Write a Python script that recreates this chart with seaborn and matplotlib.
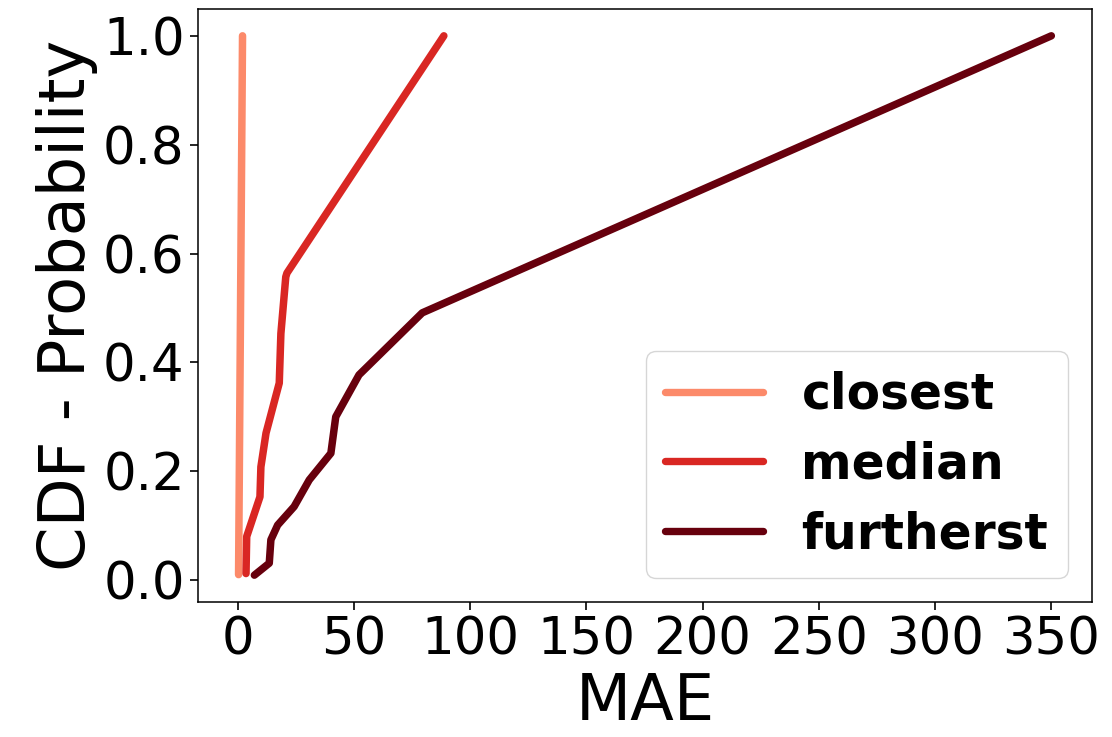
import seaborn as sns
import matplotlib.pyplot as plt
import pandas as pd

# values (MAE, CDF probability)
closest_mae = [0.4, 2.1]
closest_cdf = [0.01, 1.0]

median_mae = [3.6, 3.9, 9.6, 10.0, 12.2, 17.9, 18.6, 20.7, 21.2, 88.7]
median_cdf = [0.012, 0.08, 0.153, 0.208, 0.27, 0.362, 0.453, 0.557, 0.564, 1.0]

furtherst_mae = [7.2, 13.6, 14.3, 17.2, 24.3, 30.8, 40.1, 42.2, 52.2, 79.4, 350.0]
furtherst_cdf = [0.009, 0.031, 0.074, 0.101, 0.135, 0.184, 0.233, 0.300, 0.377, 0.491, 1.0]

series = ["closest", "median", "furtherst"]
colors = ["#fc8a6a", "#d92723", "#67000d"]

frames = []
for name, xs, ys in [("closest", closest_mae, closest_cdf),
                     ("median", median_mae, median_cdf),
                     ("furtherst", furtherst_mae, furtherst_cdf)]:
    frames.append(pd.DataFrame({"MAE": xs, "CDF": ys, "group": name}))
df = pd.concat(frames, ignore_index=True)

sns.set_style("ticks")
plt.rcParams["font.family"] = ["DejaVu Sans"]
plt.rcParams["text.color"] = "black"
plt.rcParams["axes.labelcolor"] = "black"
plt.rcParams["xtick.color"] = "black"
plt.rcParams["ytick.color"] = "black"
plt.rcParams["axes.edgecolor"] = "black"

fig = plt.figure(figsize=(11.12, 7.37), dpi=100)
ax = fig.add_axes([0.178, 0.183, 0.804, 0.805])

sns.lineplot(data=df, x="MAE", y="CDF", hue="group", hue_order=series,
             palette=colors, estimator=None, sort=False, linewidth=5.4, ax=ax)

ax.set_xlabel("MAE", fontsize=46)
ax.set_ylabel("CDF - Probability", fontsize=46)
ax.set_xticks([0, 50, 100, 150, 200, 250, 300, 350])
ax.set_yticks([0.0, 0.2, 0.4, 0.6, 0.8, 1.0])
ax.tick_params(labelsize=37, length=6, width=1.2)
for s in ax.spines.values():
    s.set_linewidth(1.1)

leg = ax.legend(loc="lower right", prop={"size": 35, "weight": "bold"},
                frameon=True, labelspacing=0.45)
for line in leg.get_lines():
    line.set_linewidth(5.3)

fig.savefig("out.png", dpi=100)
